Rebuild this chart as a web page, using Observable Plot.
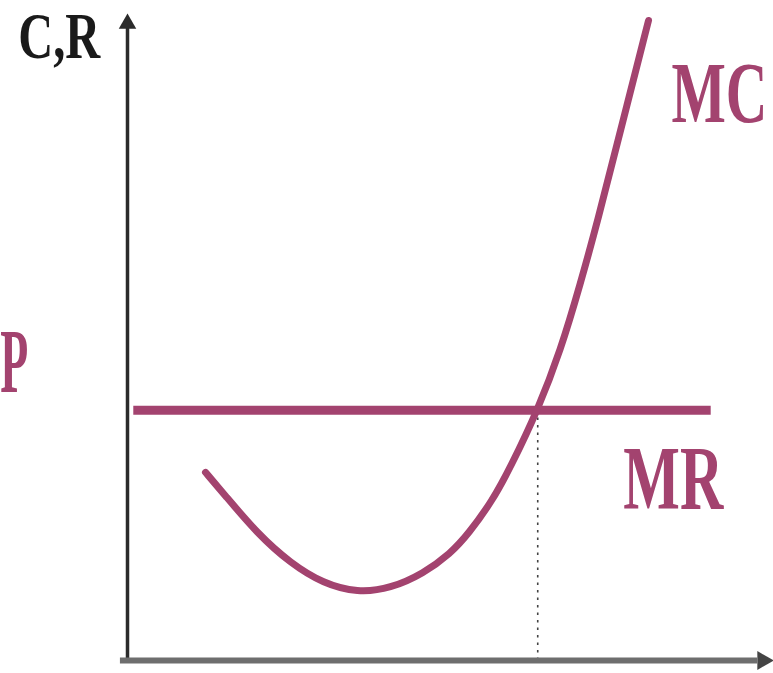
<!DOCTYPE html>
<html>
<head>
<meta charset="utf-8">
<script src="https://cdn.jsdelivr.net/npm/d3@7"></script>
<script src="https://cdn.jsdelivr.net/npm/@observablehq/plot@0.6"></script>
<style>
  html, body { margin: 0; padding: 0; background: #fff; }
  #chart { width: 773px; height: 673px; overflow: hidden; }
</style>
</head>
<body>
<div id="chart"></div>
<script>
// Marginal cost curve (quantity, cost)
const mcQuantity = [1.213, 1.493, 2.022, 2.535, 3.048, 3.577, 4.090, 4.603, 5.023, 5.303, 5.677, 5.956, 6.38, 6.734, 7.045, 7.325, 7.589, 8.103];
const mcCost     = [2.94, 2.61, 1.98, 1.52, 1.20, 1.06, 1.125, 1.36, 1.67, 1.98, 2.50, 3.02, 3.91, 4.84, 5.89, 6.92, 7.97, 10.0];
// Marginal revenue (= price) line
const price = 3.91;
const mrQuantity = [0.09, 9.07];
// Profit-maximising quantity where MC = MR
const qStar = 6.38;
// Labels
const labelYAxis = "C,R";
const labelPrice = "P";
const labelMC = "MC";
const labelMR = "MR";

const mcData = mcQuantity.map((q, i) => ({q, c: mcCost[i]}));
const mrData = mrQuantity.map(q => ({q, c: price}));

const curveColor = "#a3436f";
const font = "'Liberation Serif', 'DejaVu Serif', serif";

const plot = Plot.plot({
  width: 773,
  height: 673,
  marginLeft: 127,
  marginRight: 3,
  marginTop: 20,
  marginBottom: 13,
  x: {domain: [0, 10], axis: null},
  y: {domain: [0, 10], axis: null},
  style: {background: "white", overflow: "visible"},
  marks: [
    // dotted drop line
    Plot.ruleX([qStar], {y1: 0, y2: price, stroke: "#444", strokeWidth: 1.6, strokeDasharray: "2.5,5"}),
    // y axis with arrow
    Plot.ruleX([0], {y1: 0, y2: 9.9, stroke: "#2b2b2b", strokeWidth: 3.5}),
    Plot.dot([{q: 0, c: 9.95}], {x: "q", y: "c", symbol: "triangle", r: 6.5, fill: "#2b2b2b", stroke: "none"}),
    // x axis with arrow
    Plot.ruleY([0], {x1: -0.11, x2: 9.8, stroke: "#6e6e6e", strokeWidth: 6}),
    Plot.dot([{q: 9.88, c: 0}], {x: "q", y: "c", symbol: "triangle", r: 7, rotate: 90, fill: "#444", stroke: "none"}),
    // MR line
    Plot.line(mrData, {x: "q", y: "c", stroke: curveColor, strokeWidth: 9, strokeLinecap: "butt"}),
    // MC curve
    Plot.line(mcData, {x: "q", y: "c", curve: "basis", stroke: curveColor, strokeWidth: 7, strokeLinecap: "round"}),
    // labels
    Plot.text([labelYAxis], {x: -1.70, y: 9.41, text: d => d, textAnchor: "start", lineAnchor: "bottom", fontSize: 65, fontWeight: "bold", fontFamily: font, fill: "#1a1a1a"}),
    Plot.text([labelPrice], {x: -1.98, y: 4.19, text: d => d, textAnchor: "start", lineAnchor: "bottom", fontSize: 90, fontWeight: "bold", fontFamily: font, fill: curveColor}),
    Plot.text([labelMC], {x: 8.46, y: 8.41, text: d => d, textAnchor: "start", lineAnchor: "bottom", fontSize: 86, fontWeight: "bold", fontFamily: font, fill: curveColor}),
    Plot.text([labelMR], {x: 7.71, y: 2.375, text: d => d, textAnchor: "start", lineAnchor: "bottom", fontSize: 90, fontWeight: "bold", fontFamily: font, fill: curveColor})
  ]
});

document.getElementById("chart").appendChild(plot);

// condensed lettering as in the reference (horizontal squeeze about the anchor)
const widths = {"C,R": 82, "P": 28, "MC": 96, "MR": 100};
plot.querySelectorAll("text").forEach(t => {
  const w = widths[t.textContent];
  if (w) {
    const natural = t.getComputedTextLength();
    const sx = w / natural;
    const tr = t.getAttribute("transform") || "";
    t.setAttribute("transform", tr + ` scale(${sx},1)`);
  }
});
</script>
</body>
</html>
